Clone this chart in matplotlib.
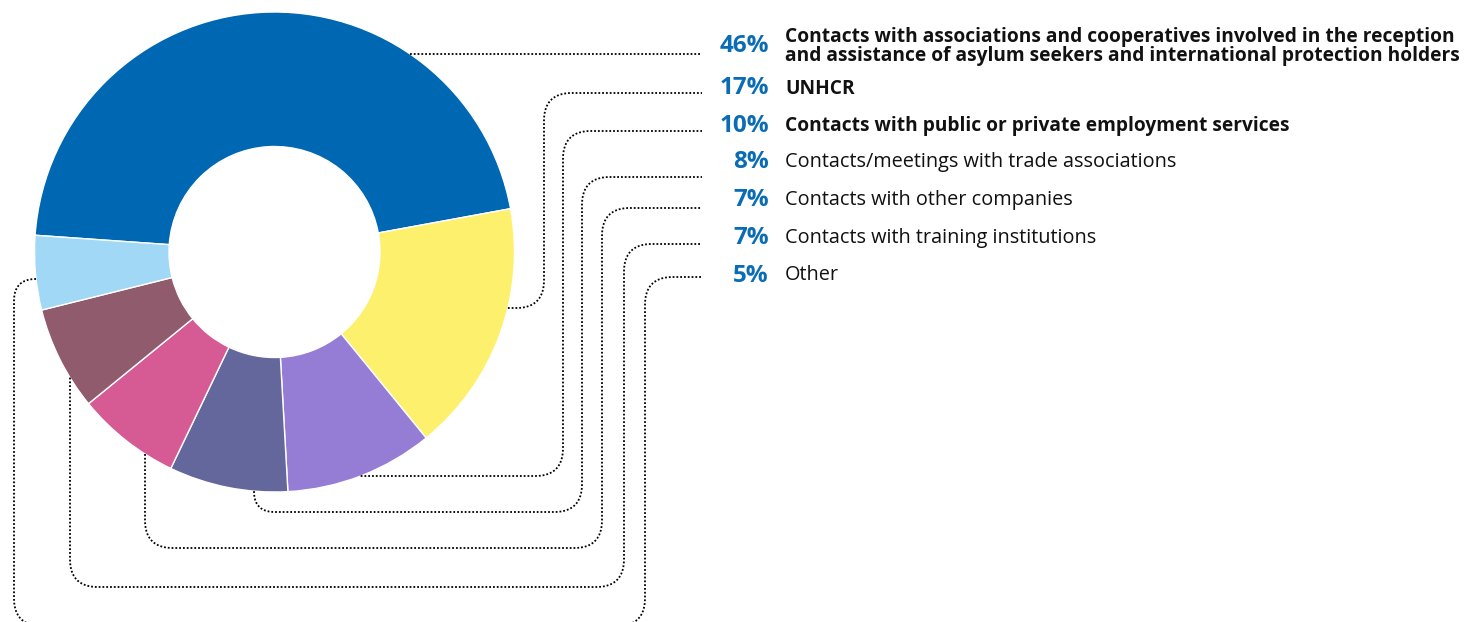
import numpy as np
import matplotlib.pyplot as plt

plt.rcParams['font.family'] = ['Open Sans', 'DejaVu Sans']

# shares of each channel, in percent
shares = [46, 17, 10, 8, 7, 7, 5]
pct_text = ["46%", "17%", "10%", "8%", "7%", "7%", "5%"]
labels = [
    "Contacts with associations and cooperatives involved in the reception\n"
    "and assistance of asylum seekers and international protection holders",
    "UNHCR",
    "Contacts with public or private employment services",
    "Contacts/meetings with trade associations",
    "Contacts with other companies",
    "Contacts with training institutions",
    "Other",
]
bold = [True, True, True, False, False, False, False]
colors = ["#0068b3", "#fdf06d", "#957dd6", "#63679c", "#d65b95", "#905b6c", "#a1d8f6"]

W, H = 1475, 622
cx, cy = 274.5, 252.0
R, r_in = 240.0, 105.5

fig = plt.figure(figsize=(W / 100, H / 100), dpi=100)
ax = fig.add_axes([0, 0, 1, 1])

# y axis runs downwards, so angles turn clockwise on screen
ax.pie(shares, colors=colors, center=(cx, cy), radius=R, startangle=-176,
       counterclock=True,
       wedgeprops=dict(width=R - r_in, edgecolor="white", linewidth=1.0))

ax.set_xlim(0, W)
ax.set_ylim(H, 0)
ax.set_aspect("equal")
ax.axis("off")

# leader lines: how each leaves the ring, the bends, and the row it ends on
first = [("h", 54), ("h", 308), ("h", 476), ("v", 254), ("v", 145), ("v", 70), ("h", 279)]
bends = [
    [],
    [(544, 308), (544, 93)],
    [(563, 476), (563, 131)],
    [(254, 512), (582, 512), (582, 177)],
    [(145, 548), (602, 548), (602, 208)],
    [(70, 587), (624, 587), (624, 244)],
    [(14, 279), (14, 626), (645, 626), (645, 277)],
]
row_y = [54, 93, 131, 177, 208, 244, 277]
x_end = 702


def ring_point(kind, v, toward):
    if kind == "h":
        dx = np.sqrt(R ** 2 - (v - cy) ** 2)
        return (cx + dx if toward > cx else cx - dx, v)
    dy = np.sqrt(R ** 2 - (v - cx) ** 2)
    return (v, cy + dy)


def rounded(pts, rad=28):
    pts = [np.array(p, float) for p in pts]
    out = [pts[0]]
    for i in range(1, len(pts) - 1):
        a, p, b = pts[i - 1], pts[i], pts[i + 1]
        la, lb = np.linalg.norm(p - a), np.linalg.norm(b - p)
        rr = min(rad, la if i == 1 else la / 2 + 8, lb)
        p1 = p - rr * (p - a) / la
        p2 = p + rr * (b - p) / lb
        t = np.linspace(0, 1, 20)[:, None]
        out.extend(list((1 - t) ** 2 * p1 + 2 * (1 - t) * t * p + t ** 2 * p2))
    out.append(pts[-1])
    out = np.array(out)
    return out[:, 0], out[:, 1]


for k in range(len(shares)):
    kind, v = first[k]
    nxt = bends[k][0] if bends[k] else (x_end, row_y[k])
    start = ring_point(kind, v, nxt[0])
    xs, ys = rounded([start] + bends[k] + [(x_end, row_y[k])])
    ax.plot(xs, ys, color="black", lw=1.3, linestyle=(0, (1, 1.1)),
            dash_capstyle="butt", zorder=1)

label_y = [46.5, 88.5, 126.5, 162.5, 200.5, 238.5, 275.5]
for k in range(len(shares)):
    ax.text(769, label_y[k], pct_text[k], ha="right", va="center",
            fontsize=17.5, fontweight="bold", color="#0a6cb5")
    ax.text(785, label_y[k], labels[k], ha="left", va="center",
            fontsize=13.8 if bold[k] else 14.3,
            fontweight="bold" if bold[k] else "normal",
            color="#111111", linespacing=0.98)

fig.savefig("out.png", dpi=100)
